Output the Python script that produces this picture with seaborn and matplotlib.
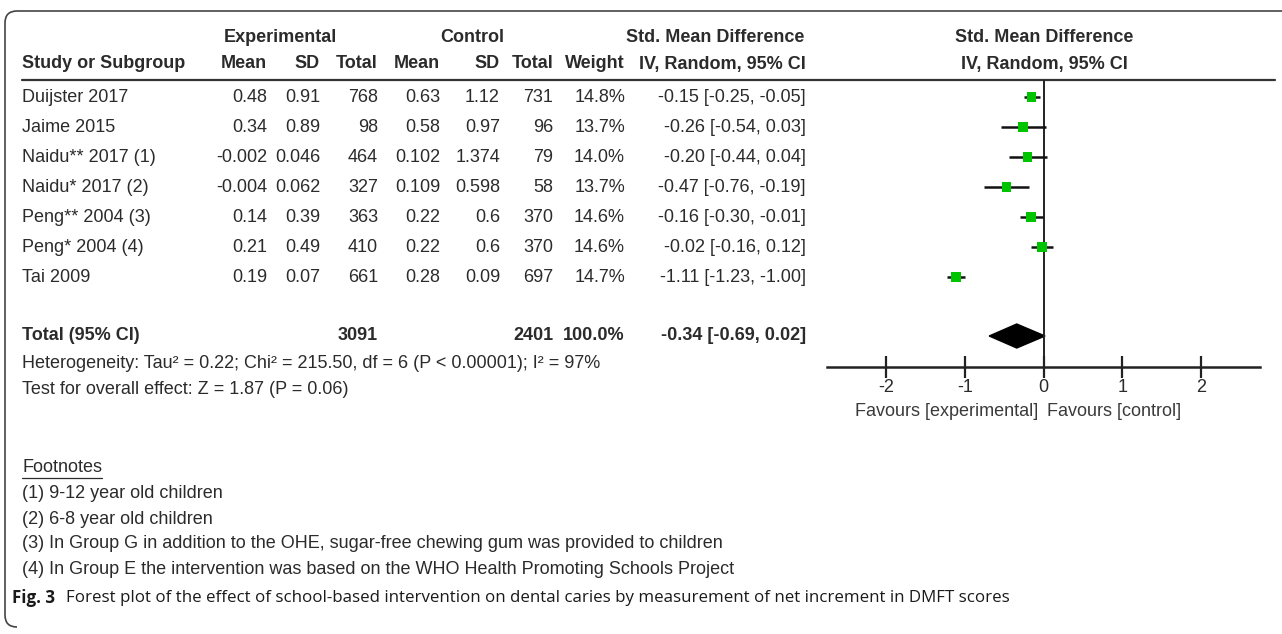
import numpy as np
import pandas as pd
import matplotlib
matplotlib.use("Agg")
import matplotlib.pyplot as plt
import seaborn as sns
from matplotlib.patches import Polygon, PathPatch
from matplotlib.path import Path
from matplotlib import font_manager

# data
studies = ["Duijster 2017", "Jaime 2015", "Naidu** 2017 (1)", "Naidu* 2017 (2)",
           "Peng** 2004 (3)", "Peng* 2004 (4)", "Tai 2009"]
exp_mean = [0.48, 0.34, -0.002, -0.004, 0.14, 0.21, 0.19]
exp_sd = [0.91, 0.89, 0.046, 0.062, 0.39, 0.49, 0.07]
exp_n = [768, 98, 464, 327, 363, 410, 661]
ctl_mean = [0.63, 0.58, 0.102, 0.109, 0.22, 0.22, 0.28]
ctl_sd = [1.12, 0.97, 1.374, 0.598, 0.6, 0.6, 0.09]
ctl_n = [731, 96, 79, 58, 370, 370, 697]
weight = [14.8, 13.7, 14.0, 13.7, 14.6, 14.6, 14.7]
smd = [-0.15, -0.26, -0.20, -0.47, -0.16, -0.02, -1.11]
ci_lo = [-0.25, -0.54, -0.44, -0.76, -0.30, -0.16, -1.23]
ci_hi = [-0.05, 0.03, 0.04, -0.19, -0.01, 0.12, -1.00]

total_exp_n = 3091
total_ctl_n = 2401
total_weight = 100.0
total_smd = -0.34
total_lo = -0.69
total_hi = 0.02

xticks = [-2, -1, 0, 1, 2]
xtick_labels = ["-2", "-1", "0", "1", "2"]

heterogeneity = "Heterogeneity: Tau² = 0.22; Chi² = 215.50, df = 6 (P < 0.00001); I² = 97%"
overall = "Test for overall effect: Z = 1.87 (P = 0.06)"
footnotes = ["(1) 9-12 year old children",
             "(2) 6-8 year old children",
             "(3) In Group G in addition to the OHE, sugar-free chewing gum was provided to children",
             "(4) In Group E the intervention was based on the WHO Health Promoting Schools Project"]
caption = "Forest plot of the effect of school-based intervention on dental caries by measurement of net increment in DMFT scores"

df = pd.DataFrame({"study": studies, "smd": smd, "lo": ci_lo, "hi": ci_hi})

sns.set_style("white")
names = {f.name for f in font_manager.fontManager.ttflist}
narrow = "Liberation Sans Narrow" if "Liberation Sans Narrow" in names else "Liberation Sans"
plt.rcParams["font.family"] = [narrow, "DejaVu Sans"]

W, H = 1282, 634
fig = plt.figure(figsize=(W / 100, H / 100), dpi=100)
bg = fig.add_axes([0, 0, 1, 1])
bg.set_xlim(0, W)
bg.set_ylim(H, 0)
bg.axis("off")

txt = "#2b2b2b"
fs = 13

# layout (pixels)
row_y = [97 + 30 * i for i in range(len(studies))]
total_y = 336
axis_y = 367

# border with rounded left corners
r = 12
verts = [(W + 5, 11), (5 + r, 11), (5, 11), (5, 11 + r), (5, 627 - r), (5, 627), (5 + r, 627)]
codes = [Path.MOVETO, Path.LINETO, Path.CURVE3, Path.CURVE3, Path.LINETO, Path.CURVE3, Path.CURVE3]
bg.add_patch(PathPatch(Path(verts, codes), fill=False, lw=1.2, color="#444444"))

# headers
bg.text(280, 38, "Experimental", ha="center", va="center", fontsize=fs, fontweight="bold", color=txt)
bg.text(472, 38, "Control", ha="center", va="center", fontsize=fs, fontweight="bold", color=txt)
bg.text(804, 38, "Std. Mean Difference", ha="right", va="center", fontsize=fs, fontweight="bold", color=txt)
bg.text(1044, 38, "Std. Mean Difference", ha="center", va="center", fontsize=fs, fontweight="bold", color=txt)

cols = [(22, "left", "Study or Subgroup"), (267, "right", "Mean"), (320, "right", "SD"),
        (378, "right", "Total"), (440, "right", "Mean"), (500, "right", "SD"),
        (553, "right", "Total"), (625, "right", "Weight"), (806, "right", "IV, Random, 95% CI")]
for x, ha, lab in cols:
    bg.text(x, 64, lab, ha=ha, va="center", fontsize=fs, fontweight="bold", color=txt)
bg.text(1044, 64, "IV, Random, 95% CI", ha="center", va="center", fontsize=fs, fontweight="bold", color=txt)
bg.plot([22, 1275], [80, 80], color="#333333", lw=1.6)

# study rows
for i, y in enumerate(row_y):
    vals = [studies[i], str(exp_mean[i]), str(exp_sd[i]), str(exp_n[i]), str(ctl_mean[i]),
            str(ctl_sd[i]), str(ctl_n[i]), f"{weight[i]:.1f}%",
            f"{smd[i]:.2f} [{ci_lo[i]:.2f}, {ci_hi[i]:.2f}]"]
    for (x, ha, _), v in zip(cols, vals):
        bg.text(x, y, v, ha=ha, va="center", fontsize=fs, color=txt)

# total row
tot = {0: "Total (95% CI)", 3: str(total_exp_n), 6: str(total_ctl_n), 7: f"{total_weight:.1f}%",
       8: f"{total_smd:.2f} [{total_lo:.2f}, {total_hi:.2f}]"}
for k, v in tot.items():
    x, ha, _ = cols[k]
    bg.text(x, total_y, v, ha=ha, va="center", fontsize=fs, fontweight="bold", color=txt)

bg.text(22, 363, heterogeneity, ha="left", va="center", fontsize=fs, color=txt)
bg.text(22, 389, overall, ha="left", va="center", fontsize=fs, color=txt)

fn = bg.text(22, 468, "Footnotes", ha="left", va="center", fontsize=fs, color=txt)
for j, line in enumerate(footnotes):
    bg.text(22, 494 + 25 * j, line, ha="left", va="center", fontsize=fs, color=txt)

cap_font = ["Open Sans", "DejaVu Sans"]
c1 = bg.text(12, 598, "Fig. 3", ha="left", va="center", fontsize=12.2, fontweight="bold",
             family=cap_font, color="#1a1a1a")
fig.canvas.draw()
rend = fig.canvas.get_renderer()
bb = c1.get_window_extent(rend)
bg.text(bb.x1 + 11, 598, caption, ha="left", va="center", fontsize=12.2, family=cap_font, color="#1a1a1a")
# underline "Footnotes"
fb = fn.get_window_extent(rend)
bg.plot([fb.x0, fb.x1], [H - fb.y0 + 1, H - fb.y0 + 1], color=txt, lw=0.9)

# forest panel
x0, x1 = 827, 1260
ax = fig.add_axes([x0 / W, 1 - axis_y / H, (x1 - x0) / W, (axis_y - 80) / H])
ax.set_xlim(-2.75, 2.75)
ax.set_ylim(axis_y, 80)
ax.patch.set_alpha(0)
for s in ["top", "left", "right"]:
    ax.spines[s].set_visible(False)
ax.spines["bottom"].set_linewidth(1.8)
ax.spines["bottom"].set_color("#222222")
ax.axvline(0, color="#222222", lw=1.4)

df["y"] = row_y
ax.hlines(df["y"], df["lo"], df["hi"], color="#111111", lw=1.8)
sns.scatterplot(data=df, x="smd", y="y", marker="s", s=45, color="#00c400", edgecolor="none",
                ax=ax, legend=False, zorder=3)
ax.add_patch(Polygon([(total_lo, total_y), (total_smd, total_y - 12), (total_hi, total_y),
                      (total_smd, total_y + 12)], closed=True, color="black"))

ax.set_xticks(xticks)
ax.set_xticklabels(xtick_labels, fontsize=fs, color=txt)
ax.set_yticks([])
ax.tick_params(axis="x", direction="inout", length=16, width=1.6, color="#222222", pad=1, bottom=True)
ax.set_xlabel("")
ax.set_ylabel("")

bg.text(947, 412, "Favours [experimental]", ha="center", va="center", fontsize=fs, color="#3a3a3a")
bg.text(1114, 412, "Favours [control]", ha="center", va="center", fontsize=fs, color="#3a3a3a")

fig.savefig("out.png", dpi=100)
